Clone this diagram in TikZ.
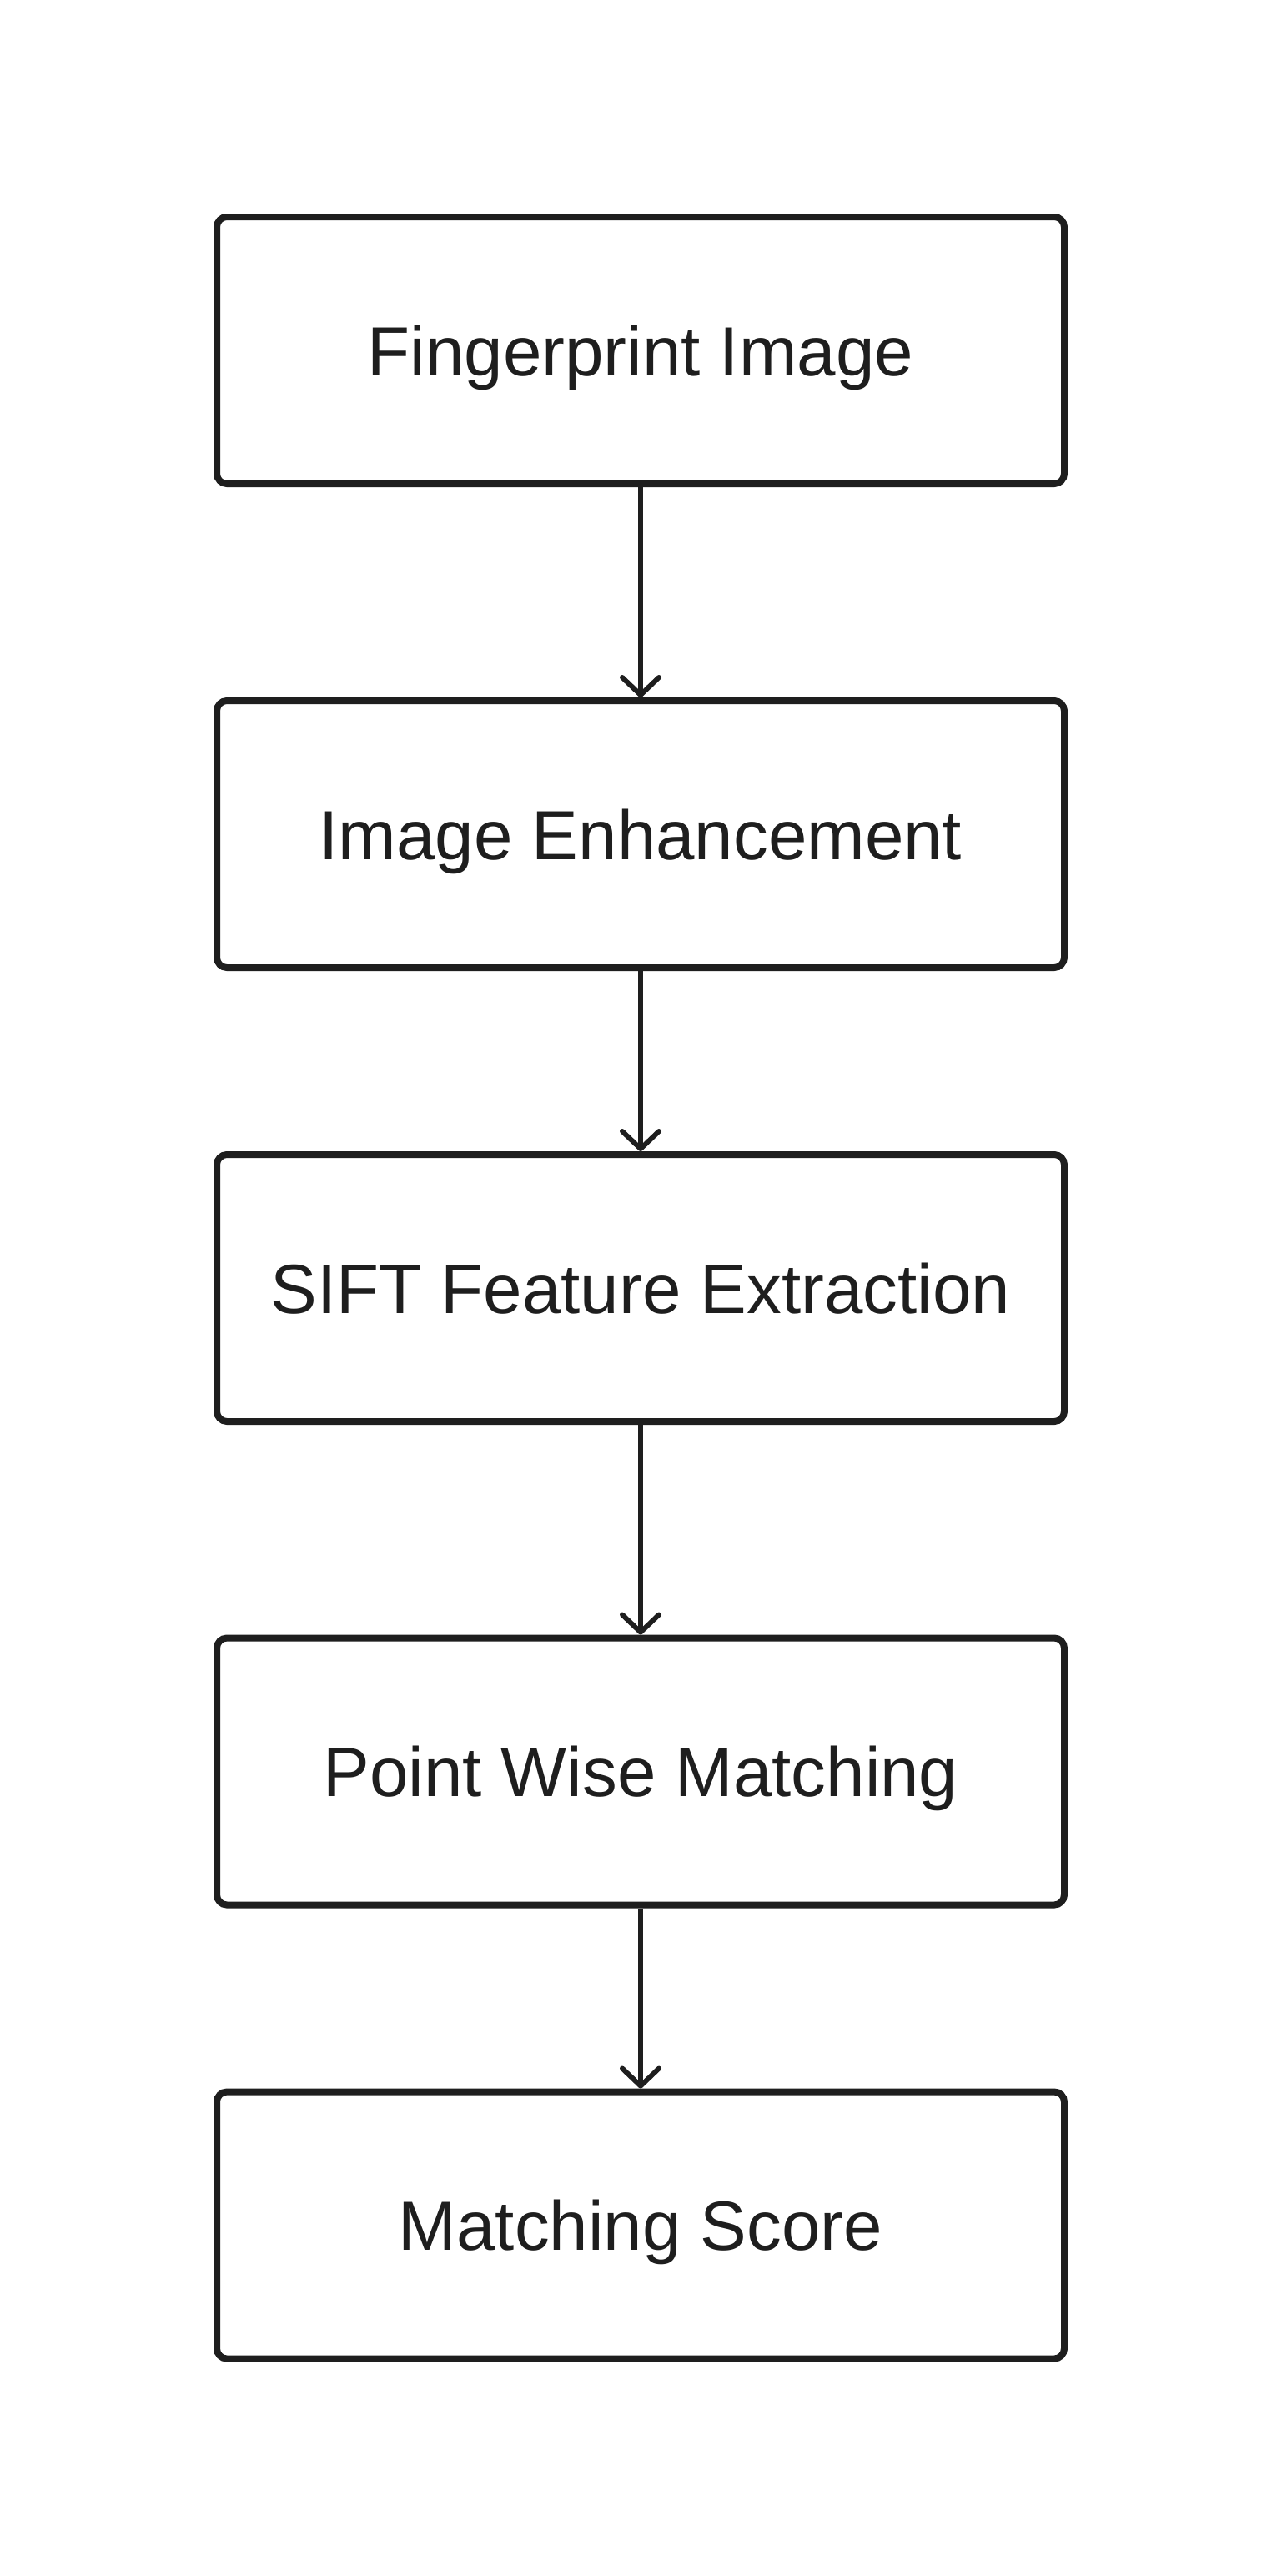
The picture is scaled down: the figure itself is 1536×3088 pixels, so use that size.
\documentclass[tikz,border=0pt]{standalone}
\usepackage{fontspec}
\setmainfont{Liberation Sans}
\usetikzlibrary{arrows.meta}
\definecolor{ink}{HTML}{1E1E1E}
\tikzset{
  stepbox/.style={draw=ink, line width=8pt, rounded corners=12pt, minimum width=1016pt, minimum height=320pt, inner sep=0pt, text height=60pt, text depth=0pt, text=ink, font=\fontsize{83.5}{100}\selectfont},
  flow/.style={draw=ink, line width=6pt, -{Straight Barb[length=21pt, width=44pt, round]}}
}
\begin{document}
\begin{tikzpicture}[x=1pt, y=-1pt]
\useasboundingbox[fill=white] (0,0) rectangle (1536,3088);
\node[stepbox] (b1) at (768,420) {Fingerprint Image};
\node[stepbox] (b2) at (768,1000) {Image Enhancement};
\node[stepbox] (b3) at (768,1544) {SIFT Feature Extraction};
\node[stepbox] (b4) at (768,2123.5) {Point Wise Matching};
\node[stepbox] (b5) at (768,2667.5) {Matching Score};
\draw[flow] (b1.south) -- (b2.north);
\draw[flow] (b2.south) -- (b3.north);
\draw[flow] (b3.south) -- (b4.north);
\draw[flow] (b4.south) -- (b5.north);
\end{tikzpicture}
\end{document}
